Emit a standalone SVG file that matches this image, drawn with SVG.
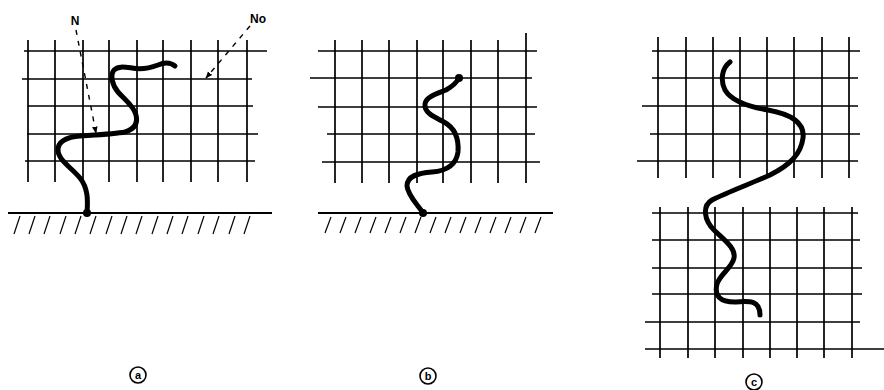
<svg xmlns="http://www.w3.org/2000/svg" width="884" height="390" viewBox="0 0 884 390">
<defs>
<style>
.grid{stroke:#000;stroke-width:1.3;fill:none}
.vg{stroke:#000;stroke-width:1.7;fill:none}
.ground{stroke:#000;stroke-width:2;fill:none}
.hatch{stroke:#000;stroke-width:1.2;fill:none}
.chain{stroke:#000;stroke-width:5;fill:none;stroke-linecap:round;stroke-linejoin:round}
.lead{stroke:#000;stroke-width:1.4;fill:none;stroke-dasharray:5 6}
.lbl{font-family:"Liberation Sans",Arial,sans-serif;font-weight:bold;fill:#000}
.circ{stroke:#000;stroke-width:1.6;fill:none}
</style>
<marker id="arr" viewBox="0 0 10 10" refX="9" refY="5" markerWidth="7" markerHeight="7" orient="auto" markerUnits="userSpaceOnUse">
<path d="M0,1 L10,5 L0,9 z" fill="#000"/>
</marker>
</defs>
<rect width="884" height="390" fill="#fff"/>

<g id="panel-a">
<path class="grid" d="M24,51H267M22,79H252M28,106H253M27,134H258M25,161H255"/>
<path class="vg" d="M28,40V182M55,40V182M83,40V182M109,40V182M137,40V182M163,40V182M191,40V182M218,40V182M247,40V182"/>
<path class="ground" d="M8,213H272"/>
<path class="hatch" d="M20,216L14,234M35,216L29,234M50,216L44,234M66,216L60,234M81,216L75,234M96,216L90,234M112,216L106,234M127,216L121,234M142,216L136,234M158,216L152,234M173,216L167,234M188,216L182,234M204,216L198,234M219,216L213,234M235,216L229,234M250,216L244,234"/>
<path class="chain" d="M87,213 C88,200 88,188 80,178 C72,168 58,160 58,150 C58,140 68,137 80,136 C95,135 115,134 125,132 C135,129 138,123 136,115 C134,106 124,99 118,92 C112,85 110,75 114,70 C118,66 124,67 132,68 C142,70 150,68 158,65 C165,62 170,62 175,66"/>
<circle cx="87" cy="213" r="4" fill="#000"/>
</g>

<g id="panel-b">
<path class="grid" d="M318,51H537M310,78H532M318,107H537M327,134H535M322,162H540"/>
<path class="vg" d="M335,40V183M362,40V183M389,40V183M417,40V183M443,40V183M471,40V183M498,40V183M526,33V183"/>
<path class="ground" d="M318,213H553"/>
<path class="hatch" d="M331,217L325,233M346,217L340,233M361,217L355,233M376,217L370,233M391,217L385,233M406,217L400,233M421,217L415,233M436,217L430,233M451,217L445,233M466,217L460,233M481,217L475,233M496,217L490,233M511,217L505,233M526,217L520,233M541,217L535,233"/>
<path class="chain" d="M423,213 C418,205 408,196 407,186 C407,176 418,173 432,172 C446,171 456,166 458,152 C459,138 455,128 444,122 C432,116 424,112 425,104 C426,97 436,94 446,90 C453,86 457,82 459,78"/>
<circle cx="423" cy="213" r="4" fill="#000"/>
<circle cx="459" cy="78" r="4" fill="#000"/>
</g>

<g id="panel-c">
<path class="grid" d="M652,51H860M652,78H858M642,106H858M650,134H860M637,161H858"/>
<path class="vg" d="M658,37V178M686,37V178M713,37V178M740,37V178M767,37V178M794,37V178M822,37V178M849,37V178"/>
<path class="grid" d="M652,213H858M652,240H860M652,268H862M652,294H862M645,322H860M645,349H884"/>
<path class="vg" d="M660,207V358M688,207V358M715,207V358M743,207V358M770,207V358M797,207V358M824,207V358M852,207V358"/>
<path class="chain" d="M730,62 C722,68 720,80 725,90 C732,102 750,107 768,110 C790,114 805,122 803,138 C801,154 790,165 770,175 C750,184 728,192 712,200 C702,206 704,220 714,230 C724,240 736,248 734,258 C732,268 720,274 717,284 C714,296 720,302 735,302 C750,301 760,300 760,315"/>
</g>

<g id="connectors">
<path class="lead" d="M76,30 L96,133" marker-end="url(#arr)"/>
<path class="lead" d="M250,26 L206,78" marker-end="url(#arr)"/>
</g>

<g id="label-N"><text class="lbl" x="75" y="25" font-size="12" text-anchor="middle">N</text></g>
<g id="label-No"><text class="lbl" x="258" y="23" font-size="12" text-anchor="middle">No</text></g>

<g id="caption-a">
<circle class="circ" cx="138" cy="375" r="8"/>
<text class="lbl" x="138" y="379" font-size="11" text-anchor="middle">a</text>
</g>
<g id="caption-b">
<circle class="circ" cx="428" cy="376" r="8"/>
<text class="lbl" x="428" y="380" font-size="11" text-anchor="middle">b</text>
</g>
<g id="caption-c">
<circle class="circ" cx="754" cy="382" r="8"/>
<text class="lbl" x="754" y="386" font-size="11" text-anchor="middle">c</text>
</g>
</svg>
